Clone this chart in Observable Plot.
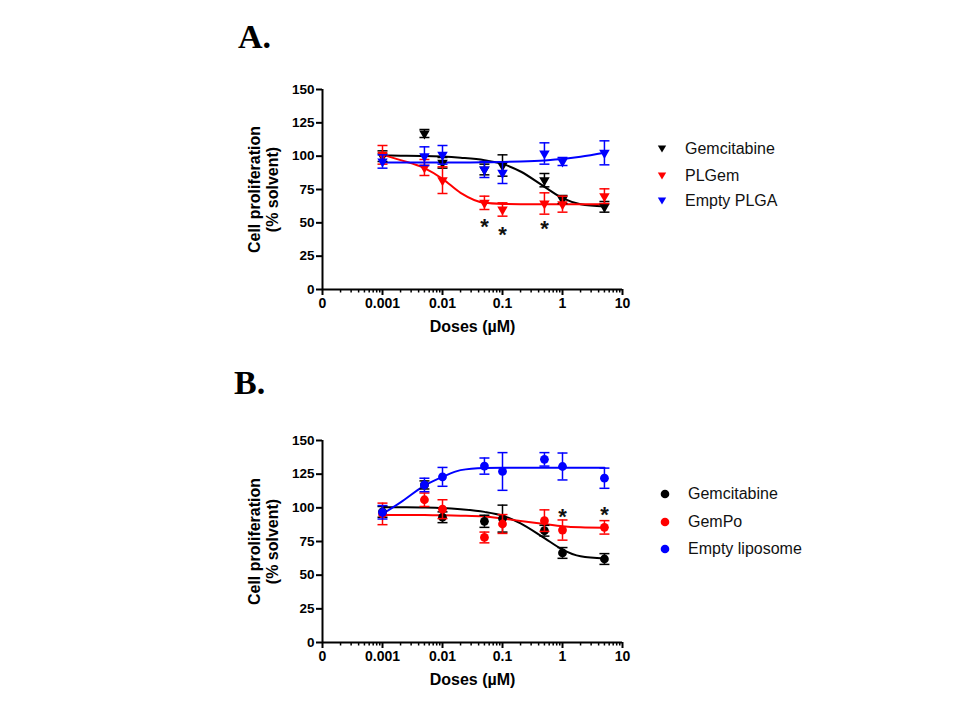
<!DOCTYPE html>
<html>
<head>
<meta charset="utf-8">
<script src="https://cdn.jsdelivr.net/npm/d3@7"></script>
<script src="https://cdn.jsdelivr.net/npm/@observablehq/plot@0.6"></script>
<style>
  html, body { margin: 0; padding: 0; background: #fff; }
  #wrap { position: relative; width: 960px; height: 720px; overflow: hidden; font-family: "Liberation Sans", Arial, sans-serif; }
  #wrap svg.plot { position: absolute; left: 0; }
  .letter { position: absolute; font-family: "Liberation Serif", "Times New Roman", serif; font-weight: bold; font-size: 34px; line-height: 34px; color: #000; }
  .leg { position: absolute; height: 20px; display: flex; align-items: center; font-size: 16px; color: #111; white-space: nowrap; }
  .leg svg { position: absolute; }
</style>
</head>
<body>
<div id="wrap"></div>
<script>
// ---------- data ----------
const doses = [0.001, 0.005, 0.01, 0.05, 0.1, 0.5, 1, 5];
const curveDoses = [0.001, 0.002, 0.005, 0.01, 0.02, 0.05, 0.1, 0.2, 0.5, 1, 2, 5];

const xMajorTicks = [0.0001, 0.001, 0.01, 0.1, 1, 10];
const xTickLabels = ["0", "0.001", "0.01", "0.1", "1", "10"];
const yTicks = [0, 25, 50, 75, 100, 125, 150];

// Panel A
const gemA_mean = [100, 117, 95, 90, 93, 82, 67.5, 62];
const gemA_sem = [4, 3, 4, 4, 8, 5, 3, 4];
const gemA_curve = [100.5, 100.4, 100.2, 99.7, 98.8, 97, 94.2, 88.5, 77, 68.5, 64, 62.3];

const plgem_mean = [101, 91.5, 82, 65, 60, 64.5, 64, 70];
const plgem_sem = [7, 6, 10, 5, 5, 8, 6, 5.5];
const plgem_curve = [101, 97, 91, 83, 72.5, 65, 64.2, 64, 64, 64, 64, 64];

const plga_mean = [96, 100, 101, 90, 87.5, 102, 96, 102.5];
const plga_sem = [5, 7, 7, 6, 8, 8, 3, 9];
const plga_curve = [95.3, 95.3, 95.3, 95.3, 95.3, 95.4, 95.6, 96, 96.8, 97.8, 99.5, 102.5];

const starsA_dose = [0.05, 0.1, 0.5];
const starsA_y = [50.5, 44.5, 49];

// Panel B
const gemB_mean = [97, 117, 93, 90, 92, 83, 66.5, 62];
const gemB_sem = [4, 3, 4, 4.5, 10, 4, 4, 4];
const gemB_curve = [100.5, 100.4, 100.2, 99.8, 98.9, 97, 94.2, 88.5, 77.5, 69, 64, 62.3];

const gempo_mean = [95.5, 106, 99, 78, 88, 90.5, 83.5, 85.5];
const gempo_sem = [8, 5, 7, 4, 7, 8, 7.5, 5];
const gempo_curve = [94.7, 94.7, 94.6, 94.5, 94.2, 93.5, 92, 90.3, 88, 86.3, 85.5, 85.2];

const lipo_mean = [96.7, 117, 123, 131, 127, 136, 130.7, 122];
const lipo_sem = [5, 5, 7, 6, 14, 5, 10, 7.5];
const lipo_curve = [95.5, 104, 116.5, 123, 128, 129.6, 129.8, 129.8, 129.8, 129.8, 129.8, 129.8];

const starsB_dose = [1, 5];
const starsB_y = [96.7, 98.5];

const namesA = ["Gemcitabine", "PLGem", "Empty PLGA"];
const namesB = ["Gemcitabine", "GemPo", "Empty liposome"];
const colors = ["#000000", "#ff0000", "#0000ff"];

// ---------- symbols ----------
const invTriangle = {
  draw(ctx, size) {
    const y = Math.sqrt(size / (3 * Math.sqrt(3)));
    ctx.moveTo(0, 2 * y);
    ctx.lineTo(-Math.sqrt(3) * y, -y);
    ctx.lineTo(Math.sqrt(3) * y, -y);
    ctx.closePath();
  }
};
const capSymbol = {
  draw(ctx, size) {
    const w = Math.sqrt(size / Math.PI);
    ctx.moveTo(-w, 0);
    ctx.lineTo(w, 0);
  }
};

const xMinorTicks = [];
for (let e = -4; e < 1; e++) for (let k = 2; k <= 9; k++) xMinorTicks.push(k * Math.pow(10, e));
const labelMap = new Map(xMajorTicks.map((t, i) => [t, xTickLabels[i]]));

function panel({series, symbol, symR, starDoses, starYs, marginTop, marginBottom}) {
  const marks = [
    Plot.axisY({ticks: yTicks, tickSize: 6, tickPadding: 2, strokeWidth: 2, fontSize: 13.5, fontWeight: "bold", label: null}),
    Plot.axisX({ticks: xMinorTicks, tickSize: 3.5, strokeWidth: 1.5, tickFormat: () => "", label: null}),
    Plot.axisX({ticks: xMajorTicks, tickSize: 6, tickPadding: 3, strokeWidth: 2, fontSize: 14, fontWeight: "bold", tickFormat: d => labelMap.get(d), label: null}),
    Plot.ruleY([0], {stroke: "#000", strokeWidth: 2}),
    Plot.ruleX([0.0001], {stroke: "#000", strokeWidth: 2}),
    Plot.text(["Doses (µM)"], {text: d => d, frameAnchor: "bottom", dy: 42, fontSize: 16, fontWeight: "bold", fill: "#000"}),
    Plot.text(["Cell proliferation\n(% solvent)"], {text: d => d, frameAnchor: "left", textAnchor: "middle", dx: -59, rotate: -90, lineHeight: 1.1, fontSize: 16, fontWeight: "bold", fill: "#000"})
  ];
  for (const s of series) {
    const rows = curveDoses.map((d, i) => ({dose: d, v: s.curve[i]}));
    marks.push(Plot.line(rows, {x: "dose", y: "v", stroke: s.color, strokeWidth: 2, curve: "monotone-x"}));
  }
  for (const s of series) {
    const rows = doses.map((d, i) => ({dose: d, m: s.mean[i], lo: s.mean[i] - s.sem[i], hi: s.mean[i] + s.sem[i]}));
    marks.push(Plot.ruleX(rows, {x: "dose", y1: "lo", y2: "hi", stroke: s.color, strokeWidth: 1.5}));
    marks.push(Plot.dot(rows, {x: "dose", y: "lo", symbol: capSymbol, r: 5, stroke: s.color, strokeWidth: 1.5, fill: "none"}));
    marks.push(Plot.dot(rows, {x: "dose", y: "hi", symbol: capSymbol, r: 5, stroke: s.color, strokeWidth: 1.5, fill: "none"}));
    marks.push(Plot.dot(rows, {x: "dose", y: "m", symbol: symbol, r: symR, fill: s.color, stroke: "none"}));
  }
  const stars = starDoses.map((d, i) => ({dose: d, y: starYs[i]}));
  marks.push(Plot.text(stars, {x: "dose", y: "y", text: () => "*", fontSize: 22, fontWeight: "bold", dy: 5, fill: "#111"}));

  const svg = Plot.plot({
    width: 960,
    height: 360,
    marginLeft: 322,
    marginRight: 338,
    marginTop,
    marginBottom,
    x: {type: "log", domain: [0.0001, 10], label: null},
    y: {domain: [0, 150], label: null},
    style: {fontFamily: "'Liberation Sans', Arial, sans-serif", color: "#000", background: "transparent", overflow: "visible"},
    marks
  });
  svg.classList.add("plot");
  return svg;
}

const wrap = document.getElementById("wrap");

const svgA = panel({
  series: [
    {mean: gemA_mean, sem: gemA_sem, curve: gemA_curve, color: colors[0]},
    {mean: plgem_mean, sem: plgem_sem, curve: plgem_curve, color: colors[1]},
    {mean: plga_mean, sem: plga_sem, curve: plga_curve, color: colors[2]}
  ],
  symbol: invTriangle, symR: 3.9,
  starDoses: starsA_dose, starYs: starsA_y,
  marginTop: 89, marginBottom: 71
});
svgA.style.top = "0px";
wrap.appendChild(svgA);

const svgB = panel({
  series: [
    {mean: gemB_mean, sem: gemB_sem, curve: gemB_curve, color: colors[0]},
    {mean: gempo_mean, sem: gempo_sem, curve: gempo_curve, color: colors[1]},
    {mean: lipo_mean, sem: lipo_sem, curve: lipo_curve, color: colors[2]}
  ],
  symbol: "circle", symR: 4.4,
  starDoses: starsB_dose, starYs: starsB_y,
  marginTop: 80, marginBottom: 78
});
svgB.style.top = "360px";
wrap.appendChild(svgB);

// panel letters
function letter(t, left, top) {
  const d = document.createElement("div");
  d.className = "letter";
  d.textContent = t;
  d.style.left = left + "px";
  d.style.top = top + "px";
  wrap.appendChild(d);
}
letter("A.", 238, 20);
letter("B.", 234, 366);

// legends
function legend(names, kind, markerX, textX, ys) {
  names.forEach((n, i) => {
    const row = document.createElement("div");
    row.className = "leg";
    row.style.left = textX + "px";
    row.style.top = (ys[i] - 10) + "px";
    const ns = "http://www.w3.org/2000/svg";
    const s = document.createElementNS(ns, "svg");
    s.setAttribute("width", "14");
    s.setAttribute("height", "14");
    s.style.left = (markerX - textX - 7) + "px";
    s.style.top = "3px";
    let shape;
    if (kind === "tri") {
      shape = document.createElementNS(ns, "path");
      shape.setAttribute("d", "M2.8,3.6 L11.2,3.6 L7,10.6 Z");
    } else {
      shape = document.createElementNS(ns, "circle");
      shape.setAttribute("cx", "7");
      shape.setAttribute("cy", "7");
      shape.setAttribute("r", "4.3");
    }
    shape.setAttribute("fill", colors[i]);
    s.appendChild(shape);
    row.appendChild(s);
    const t = document.createElement("span");
    t.textContent = n;
    row.appendChild(t);
    wrap.appendChild(row);
  });
}
legend(namesA, "tri", 662, 685, [149, 176, 201]);
legend(namesB, "dot", 665, 688, [494, 522, 549]);
</script>
</body>
</html>
